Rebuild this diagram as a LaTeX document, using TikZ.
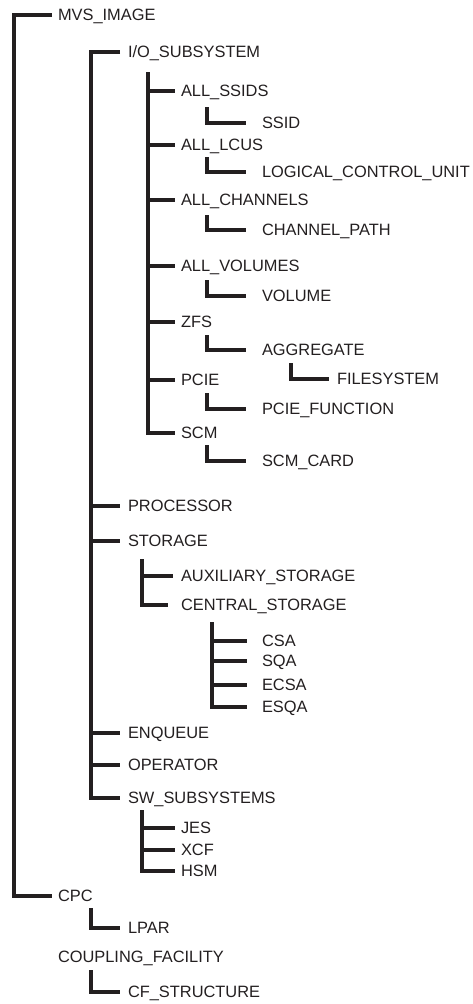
\documentclass[tikz,border=0pt]{standalone}
\usepackage{fontspec}
\setmainfont{Liberation Sans}
\usepackage{xcolor}
\definecolor{treeink}{RGB}{35,31,32}
\usepackage{tikz}
\usetikzlibrary{positioning, calc}

\tikzset{
  item/.style={anchor=west, inner sep=0pt, outer xsep=#1, text height=11.7pt, text depth=0pt,
               font=\fontsize{16.4pt}{18pt}\selectfont, text=treeink},
  item/.default=6pt,
  branch/.style={treeink, line width=4pt, line join=miter}
}

\begin{document}
\begin{tikzpicture}[x=1pt, y=-1pt]
\useasboundingbox (0,0) rectangle (473,1004);

% --- Top level ---
\node[item] (mvs) at (52,14.5) {MVS\_IMAGE};
\node[item] (cpc) at (52,896) {CPC};
\node[item] (cf) at (52,957) {COUPLING\_FACILITY};

% --- Under MVS_IMAGE ---
\node[item=8pt] (iosub) at (120,52) {I/O\_SUBSYSTEM};
\node[item=8pt] (proc) at (120,506) {PROCESSOR};
\node[item=8pt] (stor) at (120,541) {STORAGE};
\node[item=8pt] (enq) at (120,733) {ENQUEUE};
\node[item=8pt] (oper) at (120,765) {OPERATOR};
\node[item=8pt] (swsub) at (120,798) {SW\_SUBSYSTEMS};

% --- I/O subsystem ---
\node[item] (allssids) at (175,90.5) {ALL\_SSIDS};
\node[item] (alllcus) at (175,145) {ALL\_LCUS};
\node[item] (allchan) at (175,200) {ALL\_CHANNELS};
\node[item] (allvol) at (175,266) {ALL\_VOLUMES};
\node[item] (zfs) at (175,322) {ZFS};
\node[item] (pcie) at (175,380) {PCIE};
\node[item] (scm) at (175,433) {SCM};

\node[item=16pt] (ssid) at (246,122.5) {SSID};
\node[item=16pt] (lcu) at (246,172) {LOGICAL\_CONTROL\_UNIT};
\node[item=16pt] (chanpath) at (246,230) {CHANNEL\_PATH};
\node[item=16pt] (volume) at (246,296) {VOLUME};
\node[item=16pt] (aggr) at (246,350) {AGGREGATE};
\node[item=8pt] (filesys) at (329,379) {FILESYSTEM};
\node[item=16pt] (pciefn) at (246,409) {PCIE\_FUNCTION};
\node[item=16pt] (scmcard) at (246,461) {SCM\_CARD};

% --- Storage ---
\node[item=8pt] (auxstor) at (173,576) {AUXILIARY\_STORAGE};
\node[item=13pt] (centstor) at (168,605) {CENTRAL\_STORAGE};
\node[item=15pt] (csa) at (247,641) {CSA};
\node[item=15pt] (sqa) at (247,661) {SQA};
\node[item=15pt] (ecsa) at (247,685) {ECSA};
\node[item=15pt] (esqa) at (247,707) {ESQA};

% --- Software subsystems ---
\node[item] (jes) at (175,828) {JES};
\node[item] (xcf) at (175,850) {XCF};
\node[item] (hsm) at (175,871) {HSM};

% --- CPC and coupling facility ---
\node[item=8pt] (lpar) at (120,928) {LPAR};
\node[item=8pt] (cfstruct) at (120,992) {CF\_STRUCTURE};

% Trunk tops
\coordinate (t0) at (14,14.5);
\coordinate (t1) at (91,52);
\coordinate (t2) at (148,72);
\coordinate (tstor) at (142,559);
\coordinate (tcent) at (212,622);
\coordinate (tsw) at (142,810);

% Main trunks
\draw[branch] (mvs.west) -- (t0) |- (cpc.west);
\draw[branch] (iosub.west) -- (t1) |- (swsub.west);
\foreach \n in {proc,stor,enq,oper}
  \draw[branch] (\n.west -| t1) -- (\n.west);
\draw[branch] (t2) |- (scm.west);
\foreach \n in {allssids,alllcus,allchan,allvol,zfs,pcie}
  \draw[branch] (\n.west -| t2) -- (\n.west);

% Single-child elbows
\coordinate (essid) at (207,107);
\coordinate (elcu) at (207,157);
\coordinate (echan) at (207,215);
\coordinate (evol) at (207,280);
\coordinate (eaggr) at (207,335);
\coordinate (efs) at (291,363);
\coordinate (epcie) at (207,393);
\coordinate (escm) at (207,445);
\coordinate (elpar) at (91,908);
\coordinate (ecf) at (91,970);
\draw[branch] (essid) |- (ssid.west);
\draw[branch] (elcu) |- (lcu.west);
\draw[branch] (echan) |- (chanpath.west);
\draw[branch] (evol) |- (volume.west);
\draw[branch] (eaggr) |- (aggr.west);
\draw[branch] (efs) |- (filesys.west);
\draw[branch] (epcie) |- (pciefn.west);
\draw[branch] (escm) |- (scmcard.west);
\draw[branch] (elpar) |- (lpar.west);
\draw[branch] (ecf) |- (cfstruct.west);

% Storage branches
\draw[branch] (tstor) |- (centstor.west);
\draw[branch] (auxstor.west -| tstor) -- (auxstor.west);
\draw[branch] (tcent) |- (esqa.west);
\foreach \n in {csa,sqa,ecsa}
  \draw[branch] (\n.west -| tcent) -- (\n.west);

% Software subsystem branches
\draw[branch] (tsw) |- (hsm.west);
\foreach \n in {jes,xcf}
  \draw[branch] (\n.west -| tsw) -- (\n.west);

\end{tikzpicture}
\end{document}
